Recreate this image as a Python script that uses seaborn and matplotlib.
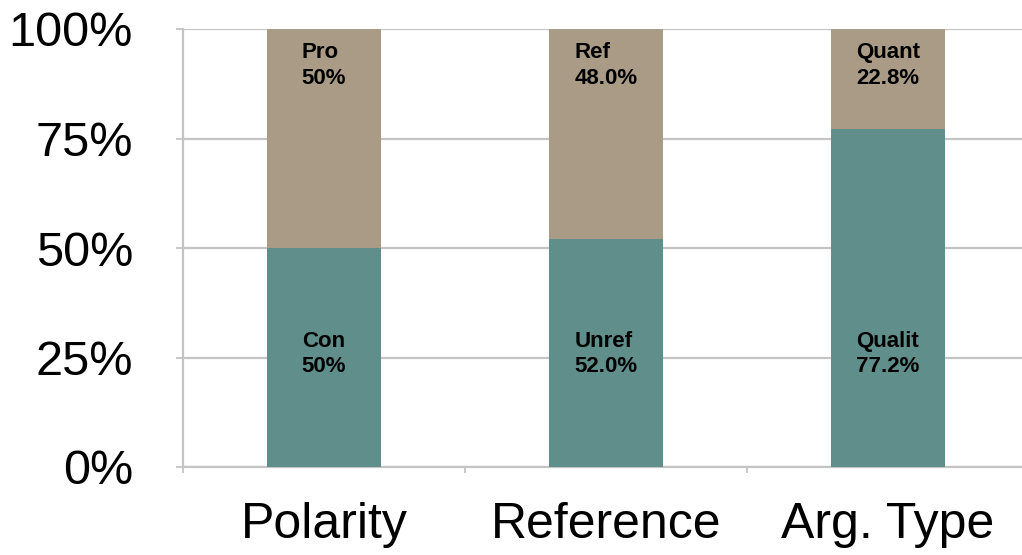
import matplotlib
matplotlib.use("Agg")
import matplotlib.pyplot as plt
import seaborn as sns
import pandas as pd
from matplotlib.ticker import FixedLocator

categories = ["Polarity", "Reference", "Arg. Type"]
bottom_vals = [50.0, 52.0, 77.2]
top_vals = [50.0, 48.0, 22.8]
bottom_names = ["Con", "Unref", "Qualit"]
top_names = ["Pro", "Ref", "Quant"]
bottom_pct = ["50%", "52.0%", "77.2%"]
top_pct = ["50%", "48.0%", "22.8%"]
yticks = [0, 25, 50, 75, 100]
ytick_labels = ["0%", "25%", "50%", "75%", "100%"]

sns.set_theme(style="white")
plt.rcParams['font.family'] = ['Liberation Sans', 'DejaVu Sans']

teal = "#5f8e8b"
tan = "#a99b86"
grid_c = "#c4c4c4"

df = pd.DataFrame({
    "cat": categories,
    "bottom": bottom_vals,
    "total": [b + t for b, t in zip(bottom_vals, top_vals)],
})

fig = plt.figure(figsize=(10.22, 5.55), dpi=100)
ax = fig.add_axes([183 / 1022, (555 - 467) / 555, (1029 - 183) / 1022, (467 - 29) / 555])

sns.barplot(data=df, x="cat", y="total", order=categories, color=tan,
            width=0.404, saturation=1, ax=ax, zorder=3, linewidth=0)
sns.barplot(data=df, x="cat", y="bottom", order=categories, color=teal,
            width=0.404, saturation=1, ax=ax, zorder=3, linewidth=0)

ax.set_xlim(-0.5, 2.5)
ax.set_ylim(0, 100)
ax.set_xlabel("")
ax.set_ylabel("")

ax.set_yticks(yticks)
ax.set_yticklabels(ytick_labels, fontsize=35, color="black")
ax.yaxis.grid(True, color=grid_c, linewidth=1.6, zorder=0)
ax.set_axisbelow(True)

ax.tick_params(axis="y", which="major", direction="out", length=5, width=1.3,
               color=grid_c, pad=31, left=True, labelcolor="black")
ax.tick_params(axis="x", which="major", length=0, pad=25, labelsize=36, bottom=True,
               labelcolor="black")
ax.xaxis.set_minor_locator(FixedLocator([-0.5, 0.5, 1.5]))
ax.tick_params(axis="x", which="minor", direction="out", length=4, width=1.3,
               color=grid_c, bottom=True)

for s in ["top", "right"]:
    ax.spines[s].set_visible(False)
for s in ["left", "bottom"]:
    ax.spines[s].set_color(grid_c)
    ax.spines[s].set_linewidth(1.6)

for i in range(len(categories)):
    ax.text(i, 91.6, f"{top_names[i]}\n{top_pct[i]}", ha="center", va="center",
            multialignment="left", fontsize=16, fontweight="bold", color="black",
            linespacing=1.3, zorder=5)
    ax.text(i, 25.8, f"{bottom_names[i]}\n{bottom_pct[i]}", ha="center", va="center",
            multialignment="left", fontsize=16, fontweight="bold", color="black",
            linespacing=1.3, zorder=5)

fig.savefig("out.png", dpi=100)
